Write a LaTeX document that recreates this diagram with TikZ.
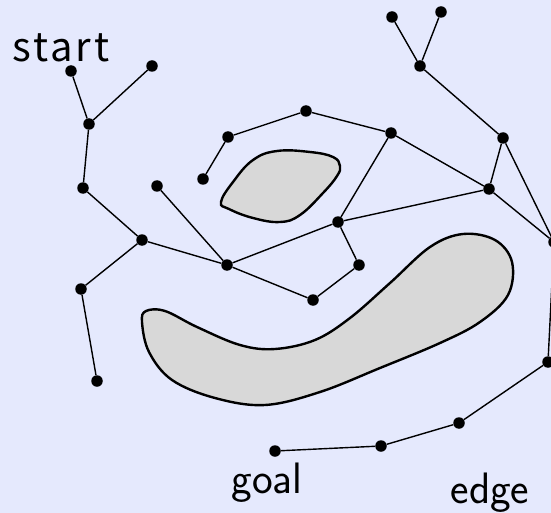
\documentclass[tikz,border=0pt]{standalone}
\usepackage{fontspec}
\newfontfamily\startfont[LetterSpace=7]{Noto Sans CJK JP}
\definecolor{bgc}{RGB}{229,233,253}
\definecolor{obst}{RGB}{216,216,216}
\tikzset{
  x=1pt,y=-1pt,
  dot/.style={circle,fill=black,inner sep=0pt,minimum size=11.5pt},
  edgeline/.style={line width=1.4pt,black},
  obstacle/.style={fill=obst,draw=black,line width=2.4pt},
  lbl/.style={inner sep=0pt,anchor=base}
}
\begin{document}
\begin{tikzpicture}
\fill[bgc] (0,0) rectangle (551,513);
\useasboundingbox (0,0) rectangle (551,513);
% obstacles
\draw[obstacle] plot[smooth cycle,tension=0.7] coordinates {(221,202) (233,182) (253,160) (277,151) (310,152) (333,157) (340,166) (337,176) (323,193) (300,215) (280,222) (253,218) (229,209)};
\draw[obstacle] plot[smooth cycle,tension=0.6] coordinates {(142,322) (146,311) (165,311) (197,327) (240,345) (275,349) (315,340) (350,318) (390,283) (430,247) (463,234) (495,240) (512,262) (508,295) (480,322) (440,343) (380,368) (320,392) (265,405) (215,398) (172,380) (149,352)};
% nodes
\node[dot] (a) at (71,71) {};
\node[dot] (b) at (152,66) {};
\node[dot] (c) at (89,124) {};
\node[dot] (d) at (83,188) {};
\node[dot] (e) at (142,240) {};
\node[dot] (f) at (228,137) {};
\node[dot] (g) at (203,179) {};
\node[dot] (h) at (157,186) {};
\node[dot] (i) at (227,265) {};
\node[dot] (j) at (81,289) {};
\node[dot] (k) at (97,381) {};
\node[dot] (l) at (306,111) {};
\node[dot] (m) at (391,133) {};
\node[dot] (n) at (338,222) {};
\node[dot] (o) at (359,265) {};
\node[dot] (p) at (313,300) {};
\node[dot] (q) at (489,189) {};
\node[dot] (r) at (503,138) {};
\node[dot] (s) at (420,66) {};
\node[dot] (t) at (392,17) {};
\node[dot] (u) at (441,12) {};
\node[dot] (v) at (554,242) {};
\node[dot] (w) at (548,362) {};
\node[dot] (x) at (459,423) {};
\node[dot] (y) at (381,446) {};
\node[dot] (z) at (275,451) {};
% edges
\draw[edgeline] (a) -- (c);
\draw[edgeline] (b) -- (c);
\draw[edgeline] (c) -- (d);
\draw[edgeline] (d) -- (e);
\draw[edgeline] (e) -- (j);
\draw[edgeline] (j) -- (k);
\draw[edgeline] (e) -- (i);
\draw[edgeline] (h) -- (i);
\draw[edgeline] (i) -- (n);
\draw[edgeline] (i) -- (p);
\draw[edgeline] (p) -- (o);
\draw[edgeline] (o) -- (n);
\draw[edgeline] (n) -- (m);
\draw[edgeline] (n) -- (q);
\draw[edgeline] (m) -- (q);
\draw[edgeline] (m) -- (l);
\draw[edgeline] (l) -- (f);
\draw[edgeline] (f) -- (g);
\draw[edgeline] (q) -- (r);
\draw[edgeline] (r) -- (s);
\draw[edgeline] (s) -- (t);
\draw[edgeline] (s) -- (u);
\draw[edgeline] (r) -- (v);
\draw[edgeline] (q) -- (v);
\draw[edgeline] (v) -- (w);
\draw[edgeline] (w) -- (x);
\draw[edgeline] (x) -- (y);
\draw[edgeline] (y) -- (z);
% labels
\node[lbl] (startlbl) at (61,62) {\startfont\fontsize{40}{40}\selectfont start};
\node[lbl] (goallbl) at (267,493) {\sffamily\fontsize{44}{44}\selectfont goal};
\node[lbl] (edgelbl) at (490,503) {\sffamily\fontsize{44}{44}\selectfont edge};
\end{tikzpicture}
\end{document}
